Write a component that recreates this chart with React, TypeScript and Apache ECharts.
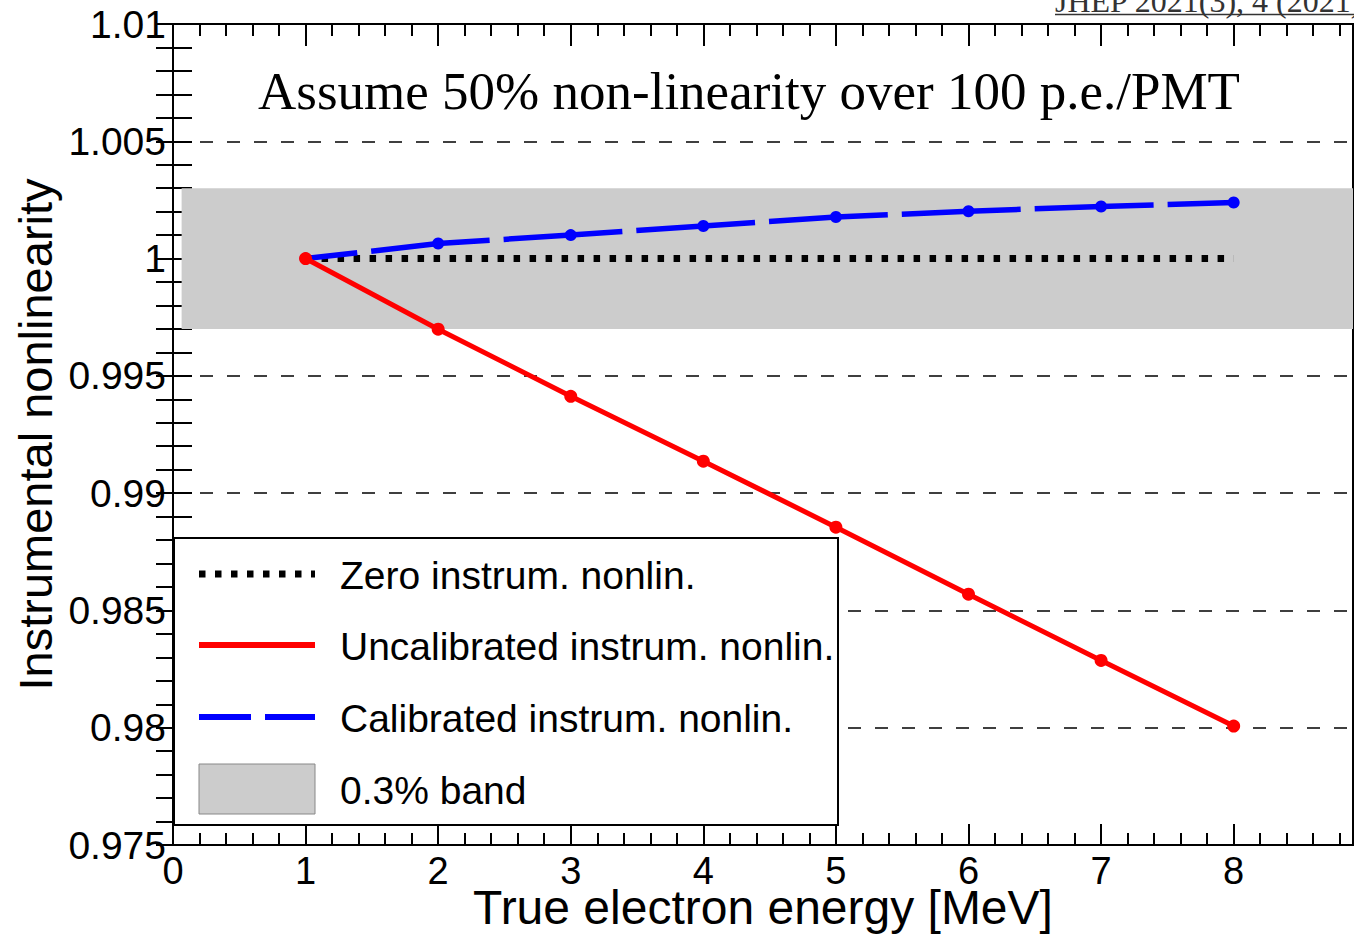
import React, { useEffect, useRef } from 'react';
import * as echarts from 'echarts';

// True electron energy [MeV]
const energies = [1, 2, 3, 4, 5, 6, 7, 8];
// Instrumental nonlinearity for each scenario
const zeroNonlin = [1, 1, 1, 1, 1, 1, 1, 1];
const uncalibrated = [1.0, 0.99699, 0.99413, 0.99136, 0.98855, 0.98569, 0.98287, 0.98007];
const calibrated = [1.0, 1.00064, 1.001, 1.00139, 1.00177, 1.00202, 1.00222, 1.00239];

// 0.3% band around unity
const bandLow = 0.997;
const bandHigh = 1.003;
const bandXStart = 0.065;
const bandXEnd = 8.9;

const xMin = 0;
const xMax = 8.9;
const yMin = 0.975;
const yMax = 1.01;

const legendLabels = [
  'Zero instrum. nonlin.',
  'Uncalibrated instrum. nonlin.',
  'Calibrated instrum. nonlin.',
  '0.3% band',
];
const titleText = 'Assume 50% non-linearity over 100 p.e./PMT';
const refText = 'JHEP 2021(3), 4 (2021)';
const xTitle = 'True electron energy [MeV]';
const yTitle = 'Instrumental nonlinearity';

const SANS = '"Liberation Sans", Arial, Helvetica, sans-serif';
const SERIF = '"Liberation Serif", "Times New Roman", Times, serif';

const pairs = (ys: number[]) => energies.map((x, i) => [x, ys[i]]);

export default function App() {
  const ref = useRef<HTMLDivElement>(null);

  useEffect(() => {
    if (!ref.current) return;
    const chart = echarts.init(ref.current, undefined, { renderer: 'svg' });

    const frameLine = { show: true, lineStyle: { color: '#000', width: 2 } };
    const tickStyle = { color: '#000', width: 2 };
    const xCommon = {
      type: 'value',
      min: xMin,
      max: xMax,
      splitLine: { show: false },
      axisLine: frameLine,
    };

    const legendX0 = 199;
    const legendX1 = 315;
    const legendTextX = 340;

    chart.setOption({
      animation: false,
      backgroundColor: '#fff',
      grid: {
        left: 173,
        top: 24,
        width: 1180,
        height: 821,
        containLabel: false,
        outerBoundsMode: 'none',
        show: true,
        borderColor: '#000',
        borderWidth: 2,
      },
      xAxis: [
        {
          ...xCommon,
          position: 'bottom',
          interval: 1,
          axisTick: { inside: true, length: 21, lineStyle: tickStyle },
          axisLabel: {
            fontSize: 38,
            fontFamily: SANS,
            color: '#000',
            margin: 7,
            formatter: (v: number) => (Number.isInteger(v) ? String(v) : ''),
          },
          name: xTitle,
          nameLocation: 'middle',
          nameGap: 38,
          nameMoveOverlap: false,
          nameTextStyle: { fontSize: 48, fontFamily: SANS, color: '#000' },
        },
        {
          ...xCommon,
          position: 'bottom',
          interval: 0.2,
          axisTick: { inside: true, length: 12, lineStyle: tickStyle },
          axisLabel: { show: false },
        },
        {
          ...xCommon,
          position: 'top',
          interval: 1,
          axisTick: { inside: true, length: 22, lineStyle: tickStyle },
          axisLabel: { show: false },
        },
        {
          ...xCommon,
          position: 'top',
          interval: 0.2,
          axisTick: { inside: true, length: 12, lineStyle: tickStyle },
          axisLabel: { show: false },
        },
      ],
      yAxis: [
        {
          type: 'value',
          position: 'left',
          min: yMin,
          max: yMax,
          interval: 0.005,
          axisLine: frameLine,
          axisTick: { inside: true, length: 19, lineStyle: tickStyle },
          minorTick: { show: true, splitNumber: 5, length: 19, lineStyle: tickStyle },
          splitLine: { show: true, lineStyle: { color: '#000', width: 1.5, type: [13, 14] } },
          axisLabel: { fontSize: 39, fontFamily: SANS, color: '#000', margin: 7 },
          name: yTitle,
          nameLocation: 'middle',
          nameGap: 114,
          nameMoveOverlap: false,
          nameTextStyle: { fontSize: 47, fontFamily: SANS, color: '#000' },
        },
        {
          type: 'value',
          position: 'right',
          min: yMin,
          max: yMax,
          interval: 0.005,
          axisLine: frameLine,
          axisTick: { inside: true, length: 17, lineStyle: tickStyle },
          minorTick: { show: true, splitNumber: 5, length: 17, lineStyle: tickStyle },
          splitLine: { show: false },
          axisLabel: { show: false },
        },
      ],
      series: [
        {
          name: 'band',
          type: 'line',
          data: pairs(zeroNonlin),
          symbol: 'none',
          lineStyle: { width: 0, opacity: 0 },
          silent: true,
          z: 1,
          markArea: {
            silent: true,
            itemStyle: { color: '#cccccc' },
            data: [[{ coord: [bandXStart, bandHigh] }, { coord: [bandXEnd, bandLow] }]],
          },
        },
        {
          name: legendLabels[0],
          type: 'line',
          data: pairs(zeroNonlin),
          symbol: 'none',
          lineStyle: { color: '#000', width: 7, type: [6.5, 9.5], cap: 'butt' },
          z: 2,
        },
        {
          name: legendLabels[2],
          type: 'line',
          data: pairs(calibrated),
          symbol: 'circle',
          symbolSize: 12,
          itemStyle: { color: '#0000ff' },
          lineStyle: { color: '#0000ff', width: 5.5, type: [119, 14], dashOffset: 67, cap: 'butt' },
          z: 3,
        },
        {
          name: legendLabels[1],
          type: 'line',
          data: pairs(uncalibrated),
          symbol: 'circle',
          symbolSize: 13,
          itemStyle: { color: '#ff0000' },
          lineStyle: { color: '#ff0000', width: 5 },
          z: 4,
        },
      ],
      graphic: [
        {
          type: 'text',
          x: 749,
          y: 91,
          z: 100,
          style: {
            text: titleText,
            fontSize: 53,
            fontFamily: SERIF,
            fill: '#000',
            align: 'center',
            verticalAlign: 'middle',
          },
        },
        {
          type: 'text',
          x: 1055,
          y: 1,
          z: 100,
          style: {
            text: refText,
            fontSize: 32,
            fontFamily: SERIF,
            fill: '#333',
            align: 'left',
            verticalAlign: 'middle',
          },
        },
        {
          type: 'line',
          z: 100,
          shape: { x1: 1055, y1: 14.5, x2: 1354, y2: 14.5 },
          style: { stroke: '#333', lineWidth: 1.5 },
        },
        // legend box
        {
          type: 'rect',
          z: 100,
          shape: { x: 174, y: 538, width: 664, height: 287 },
          style: { fill: '#fff', stroke: '#000', lineWidth: 2 },
        },
        {
          type: 'line',
          z: 101,
          shape: { x1: legendX0, y1: 574, x2: legendX1, y2: 574 },
          style: { stroke: '#000', lineWidth: 7, lineDash: [6.5, 9.5], lineCap: 'butt' },
        },
        {
          type: 'line',
          z: 101,
          shape: { x1: legendX0, y1: 645, x2: legendX1, y2: 645 },
          style: { stroke: '#ff0000', lineWidth: 6 },
        },
        {
          type: 'line',
          z: 101,
          shape: { x1: legendX0, y1: 717, x2: legendX1, y2: 717 },
          style: { stroke: '#0000ff', lineWidth: 6, lineDash: [52, 14], lineCap: 'butt' },
        },
        {
          type: 'rect',
          z: 101,
          shape: { x: legendX0, y: 764, width: legendX1 - legendX0, height: 50 },
          style: { fill: '#cccccc', stroke: '#888', lineWidth: 1 },
        },
        ...legendLabels.map((t, i) => ({
          type: 'text',
          x: legendTextX,
          y: [575, 646, 718, 790][i],
          z: 101,
          style: {
            text: t,
            fontSize: 39,
            fontFamily: SANS,
            fill: '#000',
            align: 'left',
            verticalAlign: 'middle',
          },
        })),
      ],
    });

    return () => chart.dispose();
  }, []);

  return (
    <div
      ref={ref}
      style={{ position: 'absolute', left: 0, top: 0, width: 1354, height: 935 }}
    />
  );
}
